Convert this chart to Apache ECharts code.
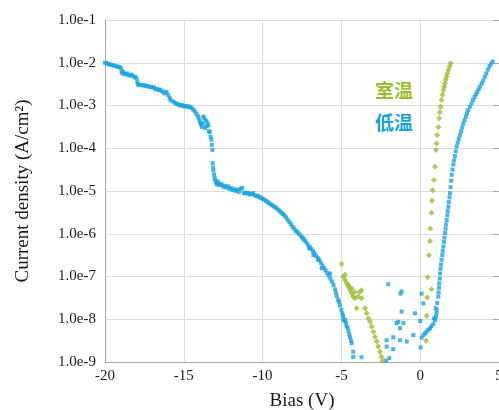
<!DOCTYPE html>
<html>
<head>
<meta charset="utf-8">
<script src="https://cdn.jsdelivr.net/npm/echarts@6/dist/echarts.min.js"></script>
<style>
	html, body { margin: 0; padding: 0; background: #fff; }
	#chart { width: 499px; height: 410px; }
</style>
</head>
<body>
<div id="chart"></div>
<script>
// 电流密度-偏压曲线 (室温 / 低温), 纵轴为对数.
var yTicks = [-9, -8, -7, -6, -5, -4, -3, -2, -1];
var xTicks = [-20, -15, -10, -5, 0, 5];

// 低温: [偏压 V, log10(电流密度)]
var lowTemp = [
	[-20.0,-2.00],[-19.9,-2.01],[-19.8,-2.03],[-19.7,-2.04],[-19.6,-2.05],[-19.5,-2.06],[-19.4,-2.07],[-19.3,-2.08],
	[-19.2,-2.09],[-19.1,-2.10],[-19.0,-2.12],[-18.95,-2.20],[-18.9,-2.24],[-18.85,-2.21],[-18.8,-2.26],[-18.7,-2.27],
	[-18.6,-2.25],[-18.5,-2.29],[-18.4,-2.30],[-18.3,-2.28],[-18.2,-2.32],[-18.1,-2.34],[-18.0,-2.36],[-17.95,-2.45],
	[-17.9,-2.50],[-17.85,-2.52],[-17.7,-2.51],[-17.6,-2.53],[-17.5,-2.53],[-17.4,-2.54],[-17.3,-2.55],[-17.2,-2.56],
	[-17.1,-2.57],[-17.0,-2.57],[-16.9,-2.58],[-16.8,-2.62],[-16.7,-2.61],[-16.6,-2.64],[-16.5,-2.63],[-16.4,-2.66],
	[-16.3,-2.69],[-16.2,-2.72],[-16.1,-2.68],[-16.0,-2.75],[-15.9,-2.82],[-15.85,-2.87],[-15.7,-2.90],[-15.6,-2.93],
	[-15.5,-2.95],[-15.4,-2.97],[-15.3,-2.98],[-15.2,-3.00],[-15.1,-2.99],[-15.0,-3.02],[-14.9,-3.01],[-14.8,-3.03],
	[-14.7,-3.02],[-14.6,-3.04],[-14.5,-3.06],[-14.4,-3.10],[-14.3,-3.14],[-14.2,-3.20],[-14.1,-3.25],[-14.05,-3.30],
	[-14.0,-3.36],[-13.95,-3.40],[-13.9,-3.45],[-13.85,-3.50],[-13.8,-3.42],[-13.76,-3.26],[-13.7,-3.30],[-13.65,-3.53],
	[-13.6,-3.35],[-13.55,-3.48],[-13.5,-3.40],[-13.44,-3.46],[-13.4,-3.60],[-13.35,-3.62],[-13.3,-3.73],[-13.25,-3.80],
	[-13.22,-3.92],[-13.19,-4.04],[-13.17,-4.35],[-13.14,-4.45],[-13.12,-4.52],[-13.08,-4.62],[-13.04,-4.70],[-13.0,-4.75],
	[-12.95,-4.80],[-12.9,-4.85],[-12.85,-4.78],[-12.8,-4.83],[-12.7,-4.86],[-12.6,-4.84],[-12.5,-4.90],[-12.4,-4.88],
	[-12.3,-4.92],[-12.2,-4.89],[-12.1,-4.95],[-12.0,-4.93],[-11.9,-4.98],[-11.8,-4.96],[-11.7,-5.00],[-11.6,-4.97],
	[-11.5,-5.02],[-11.4,-4.95],[-11.3,-4.93],[-11.2,-5.05],[-11.1,-5.04],[-11.0,-5.06],[-10.9,-5.04],[-10.8,-5.08],
	[-10.7,-5.07],[-10.6,-5.05],[-10.5,-5.10],[-10.4,-5.12],[-10.3,-5.11],[-10.2,-5.14],[-10.1,-5.16],[-10.0,-5.18],
	[-9.9,-5.20],[-9.8,-5.23],[-9.7,-5.25],[-9.6,-5.28],[-9.5,-5.31],[-9.4,-5.33],[-9.3,-5.36],[-9.2,-5.38],
	[-9.1,-5.41],[-9.0,-5.44],[-8.9,-5.47],[-8.8,-5.51],[-8.7,-5.54],[-8.6,-5.58],[-8.5,-5.62],[-8.4,-5.68],
	[-8.3,-5.73],[-8.2,-5.78],[-8.1,-5.84],[-8.0,-5.88],[-7.9,-5.93],[-7.8,-5.96],[-7.7,-6.00],[-7.6,-6.04],
	[-7.5,-6.08],[-7.42,-6.11],[-7.4,-6.13],[-7.3,-6.17],[-7.2,-6.22],[-7.1,-6.27],[-7.04,-6.34],[-7.0,-6.32],
	[-6.9,-6.36],[-6.8,-6.41],[-6.78,-6.50],[-6.7,-6.46],[-6.6,-6.52],[-6.5,-6.57],[-6.46,-6.61],[-6.4,-6.62],
	[-6.3,-6.68],[-6.25,-6.81],[-6.2,-6.74],[-6.1,-6.80],[-6.0,-6.86],[-5.9,-6.92],[-5.8,-6.98],[-5.72,-6.93],
	[-5.7,-7.05],[-5.6,-7.12],[-5.5,-7.20],[-5.4,-7.30],[-5.35,-7.38],[-5.3,-7.46],[-5.2,-7.55],[-5.15,-7.60],
	[-5.1,-7.68],[-5.0,-7.78],[-4.95,-7.86],[-4.9,-7.92],[-4.88,-8.02],[-4.8,-8.00],[-4.75,-8.05],[-4.7,-8.10],
	[-4.67,-8.17],[-4.6,-8.20],[-4.55,-8.28],[-4.5,-8.36],[-4.45,-8.42],[-4.4,-8.50],[-4.35,-8.56],[-4.25,-8.76],
	[-4.25,-8.88],[-3.72,-8.89],
	[-2.17,-8.97],[-1.96,-8.91],[-2.13,-8.64],[-1.71,-8.70],[-2.13,-8.49],[-1.71,-8.42],[-1.28,-8.49],[-0.85,-8.52],
	[-1.28,-8.21],[-1.50,-8.09],[-1.39,-8.06],[-1.07,-8.09],[-1.18,-7.82],[-2.03,-7.18],[-1.18,-7.35],[-1.25,-7.40],
	[-0.44,-8.37],[-0.33,-7.86],[0.09,-7.40],[0.00,-8.04],[0.03,-8.66],[0.20,-7.63],
	[0.09,-8.43],[0.20,-8.37],[0.31,-8.33],[0.41,-8.29],[0.51,-8.25],[0.62,-8.21],[0.72,-8.16],[0.83,-8.11],
	[0.94,-8.02],[0.88,-7.98],[1.00,-7.94],[1.04,-7.86],[1.04,-7.78],[0.98,-7.74],[1.08,-7.62],[1.15,-7.47],
	[1.17,-7.37],[1.19,-7.26],[1.21,-7.16],[1.24,-7.05],[1.26,-6.93],[1.29,-6.82],[1.32,-6.72],[1.36,-6.61],
	[1.40,-6.50],[1.43,-6.40],[1.47,-6.30],[1.51,-6.19],[1.54,-6.09],[1.58,-5.98],[1.61,-5.88],[1.64,-5.78],
	[1.68,-5.68],[1.72,-5.57],[1.75,-5.47],[1.79,-5.37],[1.82,-5.26],[1.86,-5.15],[1.89,-5.05],[1.93,-4.91],
	[1.97,-4.76],[2.00,-4.62],[2.05,-4.50],[2.10,-4.38],[2.15,-4.28],[2.20,-4.18],[2.26,-4.07],[2.31,-3.96],
	[2.38,-3.87],[2.45,-3.78],[2.52,-3.69],[2.60,-3.60],[2.67,-3.51],[2.74,-3.42],[2.82,-3.34],[2.90,-3.26],
	[2.97,-3.18],[3.05,-3.11],[3.15,-3.03],[3.26,-2.95],[3.35,-2.87],[3.45,-2.80],[3.54,-2.74],[3.62,-2.68],
	[3.71,-2.62],[3.80,-2.56],[3.90,-2.49],[4.00,-2.42],[4.10,-2.33],[4.20,-2.25],[4.30,-2.16],[4.40,-2.08],
	[4.50,-2.02],[4.60,-1.97]
];

// 室温: [偏压 V, log10(电流密度)]
var roomTemp = [
	[-4.99,-6.71],[-4.88,-7.00],[-4.77,-6.96],[-4.77,-7.08],[-4.67,-7.16],[-4.56,-7.20],[-4.56,-7.24],[-4.45,-7.32],
	[-4.35,-7.28],[-4.35,-7.40],[-4.25,-7.47],[-4.14,-7.36],[-4.14,-7.51],[-3.93,-7.47],[-3.83,-7.36],[-3.72,-7.32],
	[-3.72,-7.51],[-4.03,-7.74],[-3.50,-7.74],[-3.40,-7.86],[-3.29,-7.98],[-3.18,-8.06],[-3.08,-8.17],[-2.97,-8.29],
	[-2.87,-8.41],[-2.76,-8.52],[-2.66,-8.64],[-2.55,-8.76],[-2.45,-8.88],[-2.39,-8.97],
	[0.37,-8.50],[0.41,-7.92],[0.45,-7.49],[0.72,-7.30],[0.47,-7.02],[0.56,-6.50],[0.62,-6.17],[0.64,-5.88],
	[0.72,-5.51],[0.75,-5.23],[0.79,-4.98],[0.87,-4.74],[0.94,-4.43],[1.00,-4.04],[1.04,-3.89],[1.08,-3.69],
	[1.15,-3.50],[1.21,-3.30],[1.25,-3.16],[1.29,-3.03],[1.36,-2.87],[1.41,-2.75],[1.47,-2.64],[1.52,-2.56],
	[1.57,-2.48],[1.62,-2.40],[1.68,-2.33],[1.73,-2.25],[1.79,-2.17],[1.86,-2.09],[1.93,-2.01]
];

var toPoint = function(p) {
	return [p[0], Math.pow(10, p[1])];
};

var chartDom = document.getElementById('chart');
var myChart = echarts.init(chartDom);

var serifFont = '"Liberation Serif", "DejaVu Serif", serif';
var labelStyle = { color: '#1a1a1a', fontFamily: serifFont, fontSize: 15 };

var option = {
	animation: false,
	backgroundColor: '#fff',
	grid: { left: 105, right: 0, top: 20, bottom: 48, outerBoundsMode: 'none', containLabel: false },
	xAxis: {
		type: 'value',
		min: xTicks[0],
		max: xTicks[xTicks.length - 1],
		interval: 5,
		name: 'Bias (V)',
		nameLocation: 'middle',
		nameGap: 30,
		nameTextStyle: { color: '#1a1a1a', fontFamily: serifFont, fontSize: 19 },
		axisLine: { onZero: false, lineStyle: { color: '#a6a6a6', width: 1 } },
		axisTick: { show: false },
		axisLabel: Object.assign({ margin: 7 }, labelStyle),
		splitLine: { show: true, lineStyle: { color: '#dcdcdc', width: 1 } }
	},
	yAxis: [
		{
			type: 'log',
			logBase: 10,
			min: Math.pow(10, yTicks[0]),
			max: Math.pow(10, yTicks[yTicks.length - 1]),
			name: 'Current density (A/cm²)',
			nameLocation: 'middle',
			nameGap: 72,
			nameTextStyle: { color: '#1a1a1a', fontFamily: serifFont, fontSize: 19 },
			axisLine: { show: true, onZero: false, lineStyle: { color: '#a6a6a6', width: 1 } },
			axisTick: { show: false },
			axisLabel: Object.assign({
				margin: 9,
				formatter: function(v) {
					return '1.0e' + Math.round(Math.log10(v));
				}
			}, labelStyle),
			splitLine: { show: true, lineStyle: { color: '#dcdcdc', width: 1 } },
			minorTick: { show: false }
		},
		{
			type: 'log',
			logBase: 10,
			position: 'right',
			min: Math.pow(10, yTicks[0]),
			max: Math.pow(10, yTicks[yTicks.length - 1]),
			axisLine: { show: false, onZero: false },
			axisTick: { show: true, inside: true, length: 6, lineStyle: { color: '#a6a6a6' } },
			axisLabel: { show: false },
			splitLine: { show: false }
		}
	],
	graphic: [
		{
			type: 'text',
			left: 375, top: 81,
			style: { text: '室温', fill: '#9cbb2f', font: 'bold 19px "Noto Sans CJK SC"' }
		},
		{
			type: 'text',
			left: 375, top: 113,
			style: { text: '低温', fill: '#19a4e0', font: 'bold 19px "Noto Sans CJK SC"' }
		}
	],
	series: [
		{
			name: '低温',
			type: 'scatter',
			symbol: 'rect',
			symbolSize: 4,
			itemStyle: { color: '#19a4e0' },
			data: lowTemp.map(toPoint)
		},
		{
			name: '室温',
			type: 'scatter',
			symbol: 'diamond',
			symbolSize: 6,
			itemStyle: { color: '#9cbb2f' },
			data: roomTemp.map(toPoint)
		}
	]
};

option && myChart.setOption(option);
</script>
</body>
</html>
